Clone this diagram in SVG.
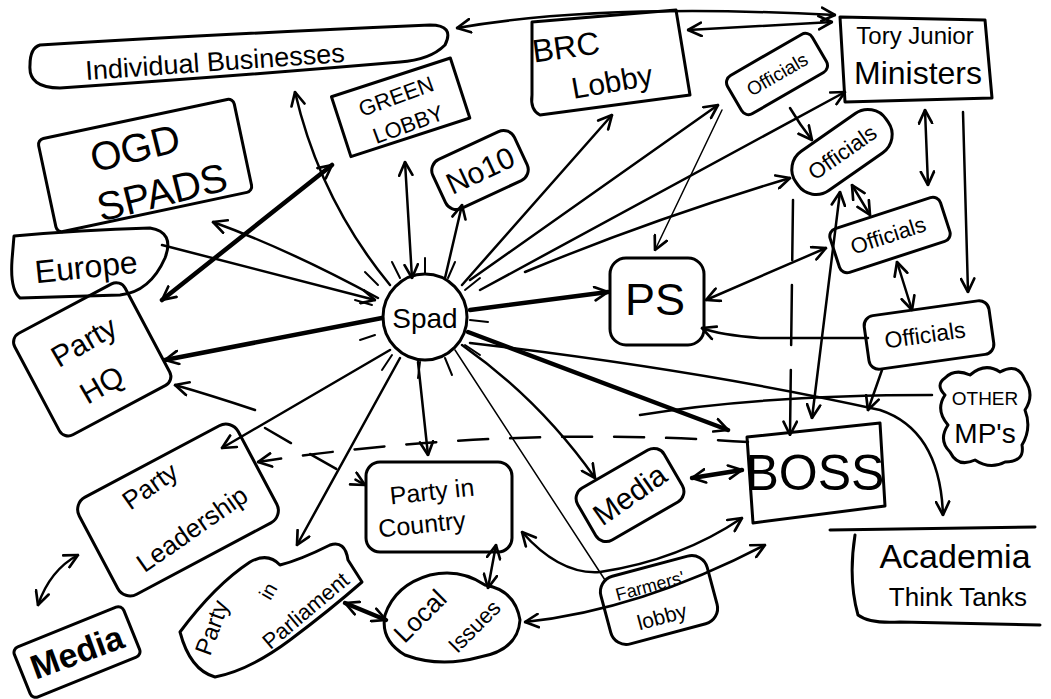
<svg xmlns="http://www.w3.org/2000/svg" width="1051" height="699" viewBox="0 0 1051 699">
<defs>
<marker id="a" viewBox="0 0 12 12" refX="11" refY="6" markerWidth="16" markerHeight="16" markerUnits="userSpaceOnUse" orient="auto-start-reverse">
<path d="M1,1 L11,6 L1,11" fill="none" stroke="#000" stroke-width="2" stroke-linecap="round" stroke-linejoin="round"/>
</marker>
<style>
.n{fill:none;stroke:#000;stroke-width:3;stroke-linejoin:round;stroke-linecap:round}
.t{font-family:"Liberation Sans","DejaVu Sans",sans-serif;fill:#000;text-anchor:middle}
.c path,.c line{fill:none;stroke:#000;stroke-width:2.5;stroke-linecap:round}
.c .thin{stroke-width:1.5}
.c .thick{stroke-width:4.5}
.c .dash{stroke-dasharray:30 22}
.s line{stroke:#000;stroke-width:2;stroke-linecap:round}
</style>
</defs>
<rect width="1051" height="699" fill="#fff"/>

<g id="connectors" class="c">
<path d="M457,28 Q600,3 835,15" marker-start="url(#a)" marker-end="url(#a)"/>
<path d="M688,30 L832,22" marker-start="url(#a)" marker-end="url(#a)"/>
<path d="M390,285 Q320,200 295,92" marker-end="url(#a)"/>
<path class="thick" d="M162,300 L332,165" marker-start="url(#a)" marker-end="url(#a)"/>
<path d="M378,298 Q290,250 213,222" marker-end="url(#a)"/>
<path d="M162,245 L375,300" marker-end="url(#a)"/>
<path class="thick" d="M382,318 L165,360" marker-end="url(#a)"/>
<path d="M255,410 Q210,395 175,385" marker-end="url(#a)"/>
<path d="M390,350 L222,448" marker-end="url(#a)"/>
<path class="dash" d="M265,428 Q320,460 365,485" marker-end="url(#a)"/>
<path class="dash" d="M748,442 Q500,425 258,462" marker-end="url(#a)"/>
<path d="M400,358 L297,545" marker-end="url(#a)"/>
<path d="M418,362 L428,455" marker-end="url(#a)"/>
<path class="thin" d="M455,350 L605,580"/>
<path d="M462,345 Q540,400 595,478" marker-end="url(#a)"/>
<path class="thick" d="M468,332 L728,430" marker-end="url(#a)"/>
<path class="thick" d="M470,310 L608,292" marker-end="url(#a)"/>
<path d="M462,285 L612,115" stroke-width="7" marker-end="url(#a)"/>
<path d="M470,280 L718,105" marker-end="url(#a)"/>
<path d="M480,290 L845,92" marker-end="url(#a)"/>
<path d="M525,272 Q650,220 790,178" marker-end="url(#a)"/>
<path d="M445,278 L462,205" marker-end="url(#a)"/>
<path d="M405,162 L412,278" marker-start="url(#a)" marker-end="url(#a)"/>
<path class="thin" d="M722,110 L655,250" marker-end="url(#a)"/>
<path d="M790,108 Q800,125 812,140" marker-end="url(#a)"/>
<path d="M925,110 L928,185" marker-start="url(#a)" marker-end="url(#a)"/>
<path d="M963,112 L968,292" marker-end="url(#a)"/>
<path d="M852,185 L870,215" marker-start="url(#a)" marker-end="url(#a)"/>
<path d="M897,262 L912,310" marker-start="url(#a)" marker-end="url(#a)"/>
<path d="M706,300 L826,248" marker-start="url(#a)" marker-end="url(#a)"/>
<path d="M868,338 L760,338 Q720,335 702,328" marker-end="url(#a)"/>
<path d="M840,192 L812,418" marker-start="url(#a)" marker-end="url(#a)"/>
<path d="M793,200 L790,435" stroke-dasharray="60 25" marker-end="url(#a)"/>
<path d="M882,370 L868,410" marker-end="url(#a)"/>
<path d="M470,343 Q700,370 880,410 Q940,430 943,515" marker-end="url(#a)"/>
<path d="M932,395 Q760,395 640,415"/>
<path class="thick" d="M692,478 L742,470" marker-start="url(#a)" marker-end="url(#a)"/>
<path d="M522,532 Q560,575 600,572 Q680,560 742,518" marker-start="url(#a)" marker-end="url(#a)"/>
<path d="M525,622 Q640,610 765,545" marker-start="url(#a)" marker-end="url(#a)"/>
<path class="thick" d="M345,603 L386,620" marker-start="url(#a)" marker-end="url(#a)"/>
<path d="M488,588 L496,545" marker-start="url(#a)" marker-end="url(#a)"/>
<path d="M38,605 Q50,570 78,555" marker-start="url(#a)" marker-end="url(#a)"/>
</g>

<g id="spad" class="s">
<ellipse class="n" cx="425" cy="317" rx="42" ry="43"/>
<line x1="378" y1="285" x2="365" y2="272"/><line x1="372" y1="305" x2="355" y2="300"/>
<line x1="375" y1="335" x2="360" y2="340"/><line x1="392" y1="355" x2="382" y2="370"/>
<line x1="420" y1="362" x2="418" y2="378"/><line x1="445" y1="358" x2="452" y2="375"/>
<line x1="465" y1="345" x2="480" y2="355"/><line x1="470" y1="320" x2="488" y2="322"/>
<line x1="465" y1="290" x2="480" y2="278"/><line x1="448" y1="278" x2="455" y2="262"/>
<line x1="425" y1="274" x2="425" y2="258"/><line x1="400" y1="278" x2="392" y2="262"/>
<text class="t" x="425" y="328" font-size="28">Spad</text>
</g>

<g id="ib">
<path class="n" d="M40,45 Q200,35 430,25 Q455,25 445,45 Q430,60 400,62 Q250,75 60,88 Q28,88 30,65 Q30,48 40,45 Z"/>
<text class="t" x="215" y="71" font-size="27" transform="rotate(-4 215 62)">Individual Businesses</text>
</g>

<g id="brc">
<path class="n" d="M532,22 L676,10 L690,95 L540,115 Q530,110 532,95 Z"/>
<text class="t" x="566" y="58" font-size="32" transform="rotate(-8 566 48)">BRC</text>
<text class="t" x="612" y="92" font-size="30" transform="rotate(-10 612 82)">Lobby</text>
</g>

<g id="tjm">
<path class="n" d="M840,17 L985,20 L992,98 L845,102 Z"/>
<text class="t" x="915" y="44" font-size="24">Tory Junior</text>
<text class="t" x="918" y="84" font-size="32">Ministers</text>
</g>

<g id="off1">
<rect class="n" x="728" y="52" width="98" height="44" rx="8" transform="rotate(-30 777 74)"/>
<text class="t" x="777" y="81" font-size="19" transform="rotate(-30 777 74)">Officials</text>
</g>

<g id="off2">
<rect class="n" x="787" y="128" width="110" height="48" rx="22" transform="rotate(-35 842 152)"/>
<text class="t" x="842" y="160" font-size="22" transform="rotate(-35 842 152)">Officials</text>
</g>

<g id="off3">
<rect class="n" x="832" y="212" width="116" height="46" rx="8" transform="rotate(-18 890 235)"/>
<text class="t" x="888" y="243" font-size="22" transform="rotate(-18 888 235)">Officials</text>
</g>

<g id="off4">
<rect class="n" x="866" y="308" width="126" height="54" rx="10" transform="rotate(-8 929 335)"/>
<text class="t" x="925" y="343" font-size="23" transform="rotate(-8 925 335)">Officials</text>
</g>

<g id="green">
<rect class="n" x="338" y="76" width="125" height="63" transform="rotate(-18 400 107)"/>
<text class="t" x="396" y="104" font-size="22" transform="rotate(-20 396 96)">GREEN</text>
<text class="t" x="408" y="132" font-size="22" transform="rotate(-20 408 124)">LOBBY</text>
</g>

<g id="no10">
<rect class="n" x="435" y="143" width="90" height="54" rx="12" transform="rotate(-25 480 170)"/>
<text class="t" x="480" y="181" font-size="30" transform="rotate(-25 480 170)">No10</text>
</g>

<g id="ogd">
<rect class="n" x="45" y="118" width="200" height="95" rx="6" transform="rotate(-12 145 165)"/>
<text class="t" x="135" y="162" font-size="40" transform="rotate(-14 135 148)">OGD</text>
<text class="t" x="162" y="206" font-size="40" transform="rotate(-14 162 192)">SPADS</text>
</g>

<g id="europe">
<path class="n" d="M14,236 Q80,230 150,228 Q175,232 165,258 Q150,292 120,295 L20,298 Q10,290 12,260 Z"/>
<text class="t" x="86" y="278" font-size="32" transform="rotate(-6 86 266)">Europe</text>
</g>

<g id="hq">
<rect class="n" x="30" y="302" width="125" height="115" rx="10" transform="rotate(-28 92 360)"/>
<text class="t" x="84" y="352" font-size="30" transform="rotate(-30 84 342)">Party</text>
<text class="t" x="102" y="395" font-size="30" transform="rotate(-30 102 385)">HQ</text>
</g>

<g id="ps">
<rect class="n" x="610" y="258" width="94" height="87" rx="16"/>
<text class="t" x="655" y="315" font-size="45">PS</text>
</g>

<g id="other">
<path class="n" d="M945,378 Q955,368 970,375 Q985,362 1000,372 Q1018,362 1025,380 Q1035,395 1025,410 Q1032,428 1022,445 Q1025,462 1005,462 Q990,470 975,460 Q958,468 950,452 Q938,440 948,425 Q935,410 945,395 Q935,385 945,378 Z"/>
<text class="t" x="985" y="405" font-size="19">OTHER</text>
<text class="t" x="985" y="443" font-size="28">MP's</text>
</g>

<g id="boss">
<path class="n" d="M747,437 L880,423 L885,506 L753,523 Z" stroke-width="4.5"/>
<text class="t" x="815" y="490" font-size="50">BOSS</text>
</g>

<g id="leadership">
<rect class="n" x="88" y="455" width="180" height="110" rx="14" transform="rotate(-28 178 510)"/>
<text class="t" x="150" y="495" font-size="26" transform="rotate(-35 150 486)">Party</text>
<text class="t" x="192" y="538" font-size="26" transform="rotate(-35 192 529)">Leadership</text>
</g>

<g id="country">
<rect class="n" x="366" y="462" width="146" height="90" rx="14"/>
<text class="t" x="432" y="500" font-size="25" transform="rotate(-6 432 492)">Party in</text>
<text class="t" x="422" y="533" font-size="25" transform="rotate(-6 422 525)">Country</text>
</g>

<g id="media1">
<rect class="n" x="580" y="465" width="100" height="60" rx="12" transform="rotate(-30 630 495)"/>
<text class="t" x="630" y="505" font-size="30" transform="rotate(-35 630 495)">Media</text>
</g>

<g id="media2">
<rect class="n" x="18" y="625" width="118" height="54" rx="6" transform="rotate(-22 77 652)"/>
<text class="t" x="77" y="664" font-size="34" font-weight="bold" transform="rotate(-20 77 652)">Media</text>
</g>

<g id="parl">
<path class="n" d="M180,632 Q215,585 250,562 Q268,552 280,565 Q300,560 330,545 Q345,540 348,560 L362,582 Q330,610 290,640 Q250,670 215,677 Q190,670 180,632 Z"/>
<text class="t" x="213" y="635" font-size="24" transform="rotate(-70 213 628)">Party</text>
<text class="t" x="268" y="598" font-size="20" transform="rotate(-60 268 591)">in</text>
<text class="t" x="306" y="618" font-size="22" transform="rotate(-40 306 611)">Parliament</text>
</g>

<g id="local">
<path class="n" d="M385,615 Q395,585 430,575 Q460,568 485,585 Q515,590 520,620 Q518,650 480,657 Q440,668 405,655 Q380,640 385,615 Z"/>
<text class="t" x="420" y="625" font-size="26" transform="rotate(-45 420 616)">Local</text>
<text class="t" x="474" y="634" font-size="22" transform="rotate(-45 474 626)">Issues</text>
</g>

<g id="farmers">
<rect class="n" x="604" y="565" width="110" height="70" rx="16" transform="rotate(-15 659 600)"/>
<text class="t" x="650" y="592" font-size="18" transform="rotate(-15 650 586)">Farmers'</text>
<text class="t" x="662" y="624" font-size="21" transform="rotate(-15 662 617)">lobby</text>
</g>

<g id="academia">
<path class="n" d="M830,530 L1035,527"/>
<path class="n" d="M855,535 Q848,580 858,615 Q870,624 900,622 L1040,625"/>
<text class="t" x="955" y="568" font-size="34">Academia</text>
<text class="t" x="958" y="606" font-size="26">Think Tanks</text>
</g>
</svg>
